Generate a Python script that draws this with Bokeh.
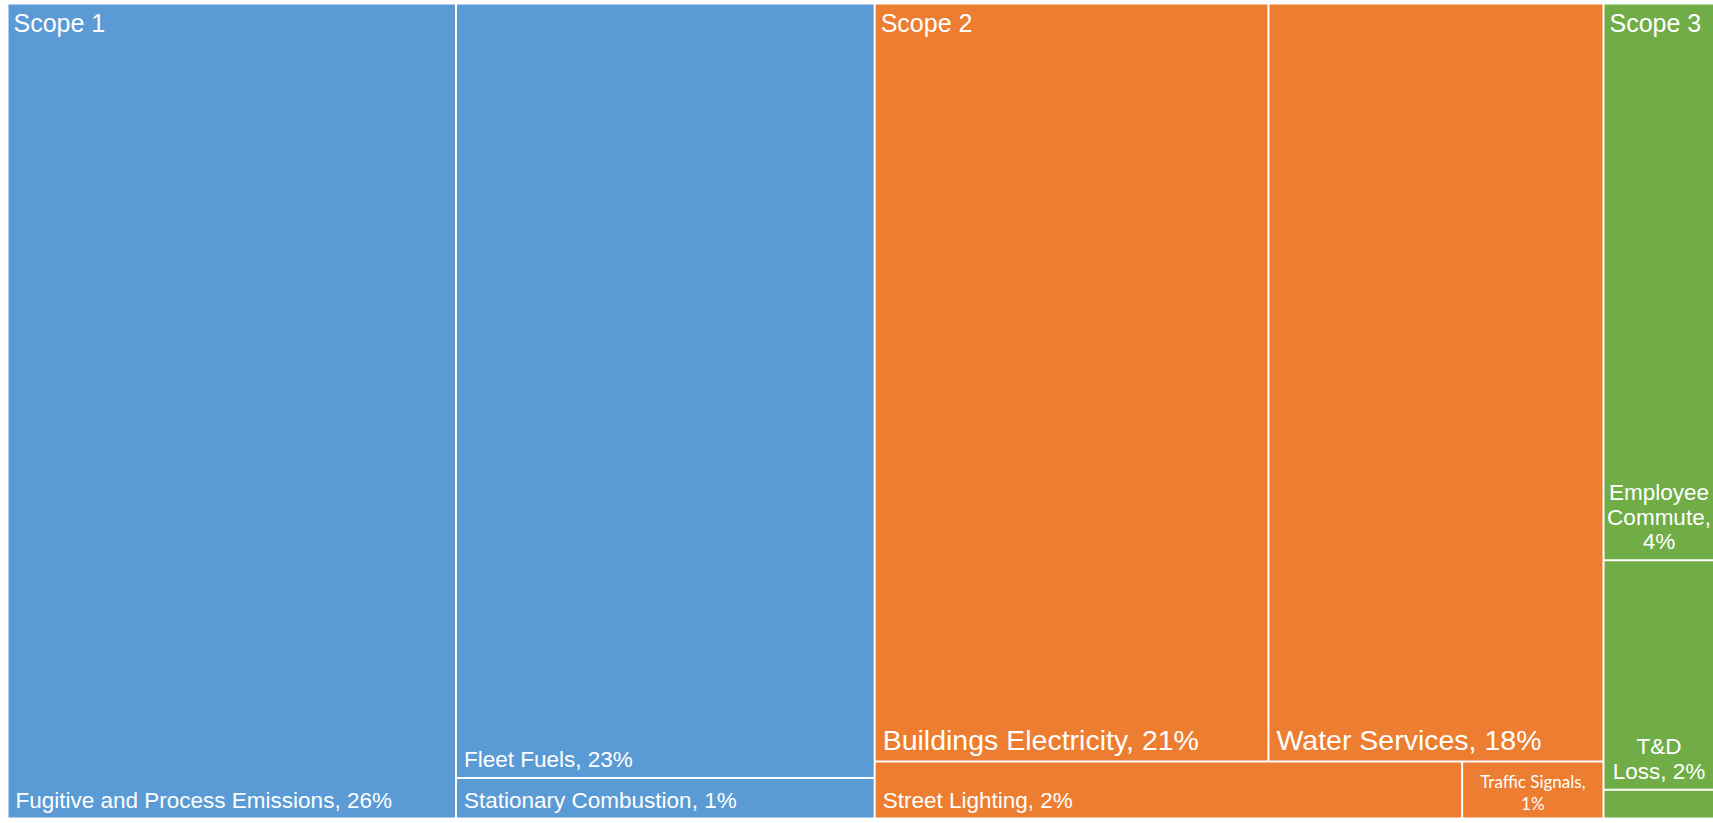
from bokeh.plotting import figure
from bokeh.models import Range1d
from bokeh.core.properties import value
from bokeh.embed import file_html
from bokeh.resources import INLINE

# ---- emissions inventory (share of total, %) ----
scopes = ["Scope 1", "Scope 2", "Scope 3"]
scope_colors = ["#5B9BD5", "#ED7D31", "#70AD47"]

categories = [
    "Fugitive and Process Emissions", "Fleet Fuels", "Stationary Combustion",
    "Buildings Electricity", "Water Services", "Street Lighting", "Traffic Signals",
    "Employee Commute", "T&D Loss", "Other",
]
category_scope = ["Scope 1"] * 3 + ["Scope 2"] * 4 + ["Scope 3"] * 3
shares = [26.27, 23.30, 1.22, 21.45, 18.25, 2.41, 0.58, 4.44, 1.83, 0.23]

# how the cells of each scope are grouped into strips
arrangement = {
    "Scope 1": ("columns", [["Fugitive and Process Emissions"],
                            ["Fleet Fuels", "Stationary Combustion"]]),
    "Scope 2": ("rows", [["Buildings Electricity", "Water Services"],
                         ["Street Lighting", "Traffic Signals"]]),
    "Scope 3": ("columns", [["Employee Commute", "T&D Loss", "Other"]]),
}

# ---- label styling ----
BASE_FONT = "Liberation Sans"
DEFAULT_SIZE = 22.5
label_size = {"Buildings Electricity": 28.5, "Water Services": 28.5,
              "Employee Commute": 22.5, "Traffic Signals": 17}
label_font = {"Traffic Signals": "Lato"}
font_width_factor = {"Liberation Sans": 1.0, "Lato": 0.92}
font_line_height = {"Liberation Sans": 1.1, "Lato": 1.3}
# the renderer places the alphabetic baseline this fraction of an em low
BASELINE_SHIFT = 0.38

# Arial-compatible advance widths (per em) used to decide when a label wraps
ADV = {" ": .278, ",": .278, "%": .889, "&": .667, "A": .667, "B": .667, "C": .722,
       "D": .722, "E": .667, "F": .611, "L": .556, "P": .667, "S": .667, "T": .611,
       "W": .944, "a": .556, "b": .556, "c": .5, "d": .556, "e": .556, "f": .278,
       "g": .556, "h": .556, "i": .222, "l": .222, "m": .833, "n": .556, "o": .556,
       "p": .556, "r": .333, "s": .5, "t": .278, "u": .556, "v": .5, "y": .5}


def text_width(s, size, font):
    return sum(ADV.get(ch, .556) for ch in s) * size * font_width_factor[font]


def wrap(s, size, font, avail):
    words, lines = s.split(" "), []
    for w in words:
        if lines and text_width(lines[-1] + " " + w, size, font) <= avail:
            lines[-1] += " " + w
        else:
            lines.append(w)
    return lines


def baseline_y(y, size):
    return y - BASELINE_SHIFT * size


# ---- treemap layout ----
W, H = 1713, 823
AREA = (7, 3, 1714, 818)

share_of = dict(zip(categories, shares))
total = sum(shares)
scope_total = {s: sum(v for v, c in zip(shares, category_scope) if c == s) for s in scopes}

scope_rect, cell_rect = {}, {}
x0, y0, x1, y1 = AREA
cx = x0
for s in scopes:
    w = (x1 - x0) * scope_total[s] / total
    scope_rect[s] = (cx, y0, cx + w, y1)
    mode, strips = arrangement[s]
    sx0, sy0, sx1, sy1 = scope_rect[s]
    pos = sx0 if mode == "columns" else sy0
    for strip in strips:
        ssum = sum(share_of[c] for c in strip)
        if mode == "columns":
            sw = (sx1 - sx0) * ssum / scope_total[s]
            yy = sy0
            for c in strip:
                h = (sy1 - sy0) * share_of[c] / ssum
                cell_rect[c] = (pos, yy, pos + sw, yy + h)
                yy += h
            pos += sw
        else:
            sh = (sy1 - sy0) * ssum / scope_total[s]
            xx = sx0
            for c in strip:
                w2 = (sx1 - sx0) * share_of[c] / ssum
                cell_rect[c] = (xx, pos, xx + w2, pos + sh)
                xx += w2
            pos += sh
    cx += w

p = figure(width=W, height=H, output_backend="svg", toolbar_location=None,
           x_axis_type=None, y_axis_type=None, min_border=0,
           x_range=Range1d(0, W), y_range=Range1d(H, 0))
p.outline_line_color = None
p.background_fill_color = "white"
p.border_fill_color = "white"
p.grid.visible = False

color_of = dict(zip(scopes, scope_colors))
GAP = 1
left, right, top, bottom, colors = [], [], [], [], []
for c, s in zip(categories, category_scope):
    a, b, cc, d = cell_rect[c]
    left.append(a + GAP); right.append(cc - GAP)
    top.append(b + GAP); bottom.append(d - GAP)
    colors.append(color_of[s])
p.quad(left=left, right=right, top=top, bottom=bottom, fill_color=colors, line_color=None)

# scope headings
SCOPE_SIZE = 25
for s in scopes:
    a, b, _, _ = scope_rect[s]
    p.text(x=[a + 6], y=[baseline_y(b + 29, SCOPE_SIZE)], text=[s],
           text_font=value(BASE_FONT), text_font_size=f"{SCOPE_SIZE}px",
           text_color="white", text_align="left", text_baseline="alphabetic")

# cell labels, anchored to the bottom of each cell
PAD = 8
for c in categories:
    pct = int(share_of[c] / total * 100 + 0.5)
    if pct < 1:
        continue
    label = f"{c}, {pct}%"
    size = label_size.get(c, DEFAULT_SIZE)
    font = label_font.get(c, BASE_FONT)
    a, b, cc, d = cell_rect[c]
    a, b, cc, d = a + GAP, b + GAP, cc - GAP, d - GAP
    avail = (cc - a) - 2 * PAD
    lines = wrap(label, size, font, avail)
    base = d - (4 + 0.21 * size)
    lh = size * font_line_height[font]
    if len(lines) == 1:
        xs, align = [a + 7], "left"
    else:
        xs, align = [(a + cc) / 2] * len(lines), "center"
    ys = [baseline_y(base - lh * (len(lines) - 1 - i), size) for i in range(len(lines))]
    p.text(x=xs, y=ys, text=lines, text_font=value(font), text_font_size=f"{size}px",
           text_color="white", text_align=align, text_baseline="alphabetic")

open("out.html", "w").write(file_html(p, INLINE))
